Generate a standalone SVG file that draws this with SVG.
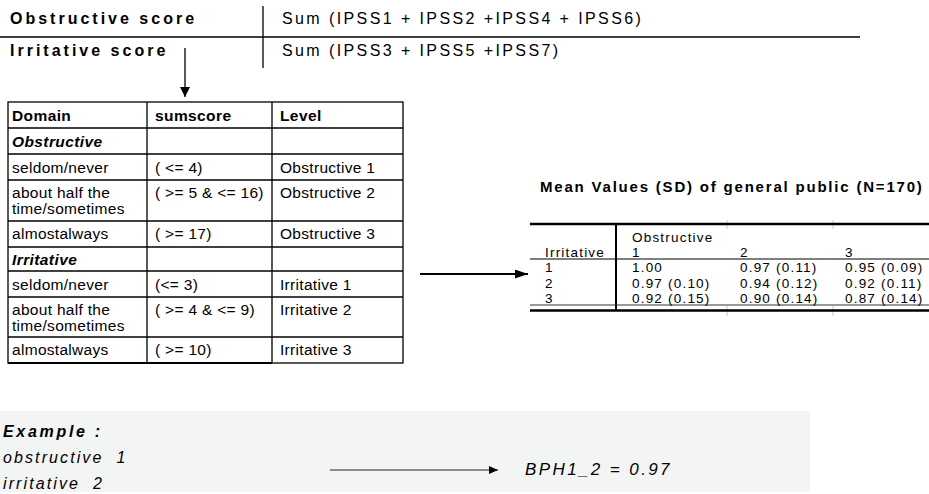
<svg xmlns="http://www.w3.org/2000/svg" width="929" height="494" viewBox="0 0 929 494">
<defs>
<style>
text{font-family:"Liberation Sans",Arial,Helvetica,sans-serif;fill:#000}
.hb{font-size:16px;font-weight:bold;letter-spacing:3px}
.hr{font-size:16px;letter-spacing:2.4px}
.tc{font-size:15.5px;letter-spacing:0.3px}
.tb{font-size:15.5px;letter-spacing:0.4px;font-weight:bold}
.tbi{font-size:15.5px;letter-spacing:0.4px;font-weight:bold;font-style:italic}
.rt{font-size:13.5px;letter-spacing:1.2px}
.title{font-size:15px;font-weight:bold;letter-spacing:1.8px}
.ex{font-size:16px;font-style:italic;letter-spacing:2.1px}
.exb{font-size:16px;font-style:italic;font-weight:bold;letter-spacing:2.7px}
.ln{stroke:#000;stroke-width:1.3;fill:none}
.thick{stroke:#000;stroke-width:2.6;fill:none}
.faint{stroke:#c8c8c8;stroke-width:1;fill:none}
</style>
<marker id="ah" viewBox="0 0 10 10" refX="10" refY="5" markerWidth="10" markerHeight="10" markerUnits="userSpaceOnUse" orient="auto">
<path d="M0,0 L10,5 L0,10 Z" fill="#000"/>
</marker>
<marker id="ahL" viewBox="0 0 13 9" refX="13" refY="4.5" markerWidth="13" markerHeight="9" markerUnits="userSpaceOnUse" orient="auto">
<path d="M0,0 L13,4.5 L0,9 Z" fill="#000"/>
</marker>
<marker id="ahS" viewBox="0 0 9 8" refX="9" refY="4" markerWidth="9" markerHeight="8" markerUnits="userSpaceOnUse" orient="auto">
<path d="M0,0 L9,4 L0,8 Z" fill="#000"/>
</marker>
</defs>

<g id="score-definitions">
<line class="ln" x1="0" y1="37" x2="860" y2="37"/>
<line class="ln" x1="263" y1="6" x2="263" y2="68"/>
<text class="hb" x="10" y="24">Obstructive score</text>
<text class="hr" x="282" y="24">Sum (IPSS1 + IPSS2 +IPSS4 + IPSS6)</text>
<text class="hb" x="10" y="56">Irritative score</text>
<text class="hr" x="282" y="56">Sum (IPSS3 + IPSS5 +IPSS7)</text>
</g>

<g id="domain-table">
<rect class="ln" x="8" y="102" width="395" height="261"/>
<line class="ln" x1="147" y1="102" x2="147" y2="363"/>
<line class="ln" x1="272" y1="102" x2="272" y2="363"/>
<line class="ln" x1="8" y1="128" x2="403" y2="128"/>
<line class="ln" x1="8" y1="154" x2="403" y2="154"/>
<line class="ln" x1="8" y1="180" x2="403" y2="180"/>
<line class="ln" x1="8" y1="221" x2="403" y2="221"/>
<line class="ln" x1="8" y1="247" x2="403" y2="247"/>
<line class="ln" x1="8" y1="271" x2="403" y2="271"/>
<line class="ln" x1="8" y1="297" x2="403" y2="297"/>
<line class="ln" x1="8" y1="337" x2="403" y2="337"/>
<line stroke="#000" stroke-width="2" x1="8" y1="363" x2="272" y2="363"/>
<text class="tb" x="12" y="121">Domain</text>
<text class="tb" x="155" y="121">sumscore</text>
<text class="tb" x="280" y="121">Level</text>
<text class="tbi" x="12" y="147">Obstructive</text>
<text class="tc" x="12" y="173">seldom/never</text>
<text class="tc" x="155" y="173">( &lt;= 4)</text>
<text class="tc" x="280" y="173">Obstructive 1</text>
<text class="tc" x="12" y="198">about half the</text>
<text class="tc" x="12" y="214">time/sometimes</text>
<text class="tc" x="155" y="198">( &gt;= 5 &amp; &lt;= 16)</text>
<text class="tc" x="280" y="198">Obstructive 2</text>
<text class="tc" x="12" y="239">almostalways</text>
<text class="tc" x="155" y="239">( &gt;= 17)</text>
<text class="tc" x="280" y="239">Obstructive 3</text>
<text class="tbi" x="12" y="265">Irritative</text>
<text class="tc" x="12" y="290">seldom/never</text>
<text class="tc" x="155" y="290">(&lt;= 3)</text>
<text class="tc" x="280" y="290">Irritative 1</text>
<text class="tc" x="12" y="315">about half the</text>
<text class="tc" x="12" y="331">time/sometimes</text>
<text class="tc" x="155" y="315">( &gt;= 4 &amp; &lt;= 9)</text>
<text class="tc" x="280" y="315">Irritative 2</text>
<text class="tc" x="12" y="355">almostalways</text>
<text class="tc" x="155" y="355">( &gt;= 10)</text>
<text class="tc" x="280" y="355">Irritative 3</text>
</g>

<g id="mean-values-table">
<text class="title" x="540" y="192">Mean Values (SD) of general public (N=170)</text>
<line class="faint" x1="727" y1="220" x2="727" y2="229"/>
<line class="faint" x1="833" y1="220" x2="833" y2="229"/>
<line class="faint" x1="727" y1="306" x2="727" y2="316"/>
<line class="faint" x1="833" y1="306" x2="833" y2="316"/>
<line class="thick" x1="530" y1="224" x2="929" y2="224"/>
<line stroke="#000" stroke-width="2" x1="616" y1="224" x2="616" y2="311"/>
<line stroke="#000" stroke-width="1.2" x1="530" y1="259" x2="929" y2="259"/>
<line stroke="#333" stroke-width="1" x1="530" y1="305" x2="929" y2="305"/>
<line class="thick" x1="530" y1="310.5" x2="929" y2="310.5"/>
<text class="rt" x="632" y="241.5">Obstructive</text>
<text class="rt" x="545" y="257">Irritative</text>
<text class="rt" x="632" y="257">1</text>
<text class="rt" x="740" y="257">2</text>
<text class="rt" x="845" y="257">3</text>
<text class="rt" x="545" y="272">1</text>
<text class="rt" x="632" y="272">1.00</text>
<text class="rt" x="740" y="272">0.97 (0.11)</text>
<text class="rt" x="845" y="272">0.95 (0.09)</text>
<text class="rt" x="545" y="287.5">2</text>
<text class="rt" x="632" y="287.5">0.97 (0.10)</text>
<text class="rt" x="740" y="287.5">0.94 (0.12)</text>
<text class="rt" x="845" y="287.5">0.92 (0.11)</text>
<text class="rt" x="545" y="303">3</text>
<text class="rt" x="632" y="303">0.92 (0.15)</text>
<text class="rt" x="740" y="303">0.90 (0.14)</text>
<text class="rt" x="845" y="303">0.87 (0.14)</text>
</g>

<g id="example-box">
<rect x="0" y="411" width="810" height="81" fill="#f3f5f5"/>
<text class="exb" x="3" y="437">Example :</text>
<text class="ex" x="3" y="463" xml:space="preserve">obstructive  1</text>
<text class="ex" x="3" y="489" xml:space="preserve">irritative  2</text>
<text class="ex" x="525" y="475" style="font-size:17px;letter-spacing:2.4px">BPH1_2 = 0.97</text>
</g>

<g id="connectors">
<line stroke="#000" stroke-width="1.3" x1="185" y1="48" x2="185" y2="97" marker-end="url(#ah)"/>
<line stroke="#000" stroke-width="2" x1="420" y1="274" x2="528" y2="274" marker-end="url(#ahL)"/>
<line stroke="#222" stroke-width="1" x1="330" y1="470" x2="498" y2="470" marker-end="url(#ahS)"/>
</g>
</svg>
